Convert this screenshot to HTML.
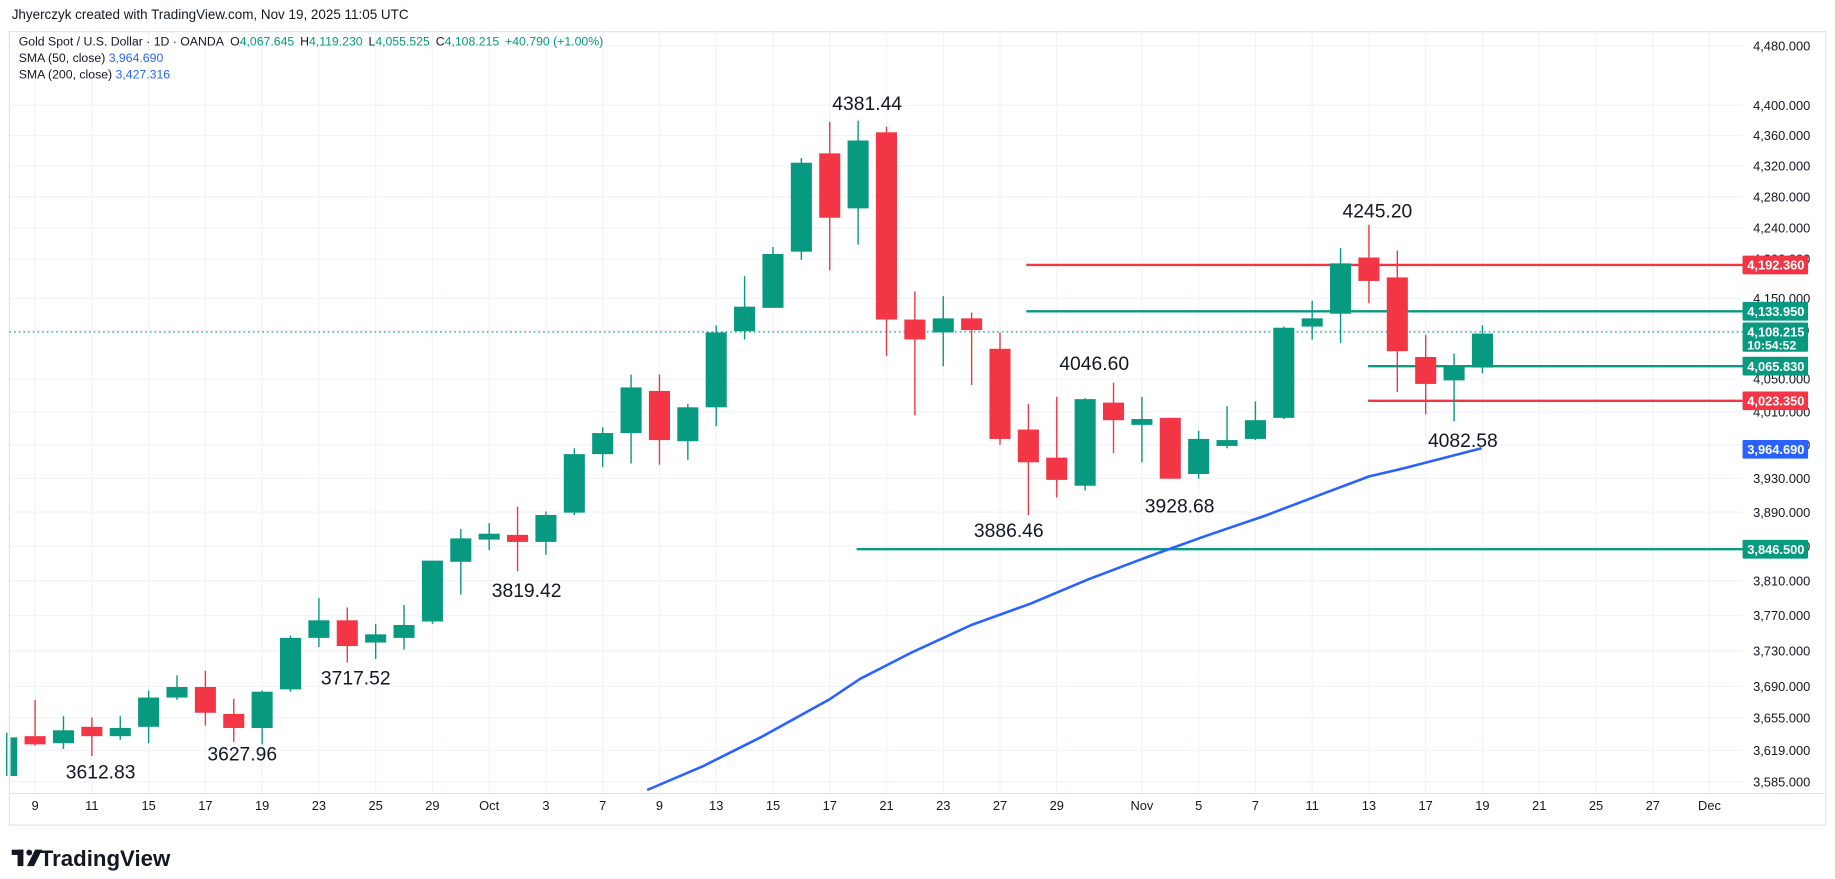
<!DOCTYPE html>
<html><head><meta charset="utf-8"><style>
html,body{margin:0;padding:0;background:#fff;}
svg{display:block;font-family:"Liberation Sans",sans-serif;}
</style></head><body>
<svg id="c" width="1835" height="879" viewBox="0 0 1568 751" xmlns="http://www.w3.org/2000/svg">
<rect width="1568" height="751" fill="#fff"/>
<g id="grid"></g>
<g id="lines"></g>
<g id="candles"></g>
<g id="over"></g>
<text x="10" y="16" font-size="11.5" fill="#131722">Jhyerczyk created with TradingView.com, Nov 19, 2025 11:05 UTC</text>
<text x="16" y="39" font-size="10.5" fill="#131722">Gold Spot / U.S. Dollar · 1D · OANDA <tspan dx="3">O</tspan><tspan fill="#089981">4,067.645</tspan><tspan dx="5">H</tspan><tspan fill="#089981">4,119.230</tspan><tspan dx="5">L</tspan><tspan fill="#089981">4,055.525</tspan><tspan dx="5">C</tspan><tspan fill="#089981">4,108.215</tspan><tspan dx="5" fill="#089981">+40.790 (+1.00%)</tspan></text>
<text x="16" y="53" font-size="10.5" fill="#131722">SMA (50, close) <tspan fill="#2962ff">3,964.690</tspan></text>
<text x="16" y="67" font-size="10.5" fill="#131722">SMA (200, close) <tspan fill="#2962ff">3,427.316</tspan></text>
<g transform="translate(10,726)">
<rect x="0" y="0" width="10" height="4.5" fill="#131722"/>
<rect x="5" y="0" width="5" height="14" fill="#131722"/>
<circle cx="15" cy="2.5" r="2.5" fill="#131722"/>
<polygon points="20,0 26,0 19,14 13,14" fill="#131722"/>
</g>
<text x="34" y="740" font-size="19" font-weight="bold" fill="#131722">TradingView</text>
</svg>
<script>
const NS="http://www.w3.org/2000/svg";
function el(p,t,a,txt){const e=document.createElementNS(NS,t);for(const k in a)e.setAttribute(k,a[k]);if(txt!==undefined)e.textContent=txt;document.getElementById(p).appendChild(e);return e;}
const Y=p=>90+2821*Math.log(4400/p);
const X=i=>30+24.25*(i-1);
const PR=1489;
el('grid','rect',{x:8,y:27,width:1552,height:678,fill:'none',stroke:'#e0e3eb','stroke-width':1});
const ticks=[4480,4400,4360,4320,4280,4240,4200,4150,4110,4050,4010,3970,3930,3890,3850,3810,3770,3730,3690,3655,3619,3585];
ticks.forEach(t=>{const y=Y(t);el('grid','line',{x1:8,x2:PR,y1:y,y2:y,stroke:'#f0f3fa','stroke-width':1});
el('over','text',{x:1498,y:y+4,'font-size':11,fill:'#131722'},t.toLocaleString('en-US',{minimumFractionDigits:3}));});
const dates=[[1,'9'],[3,'11'],[5,'15'],[7,'17'],[9,'19'],[11,'23'],[13,'25'],[15,'29'],[17,'Oct'],[19,'3'],[21,'7'],[23,'9'],[25,'13'],[27,'15'],[29,'17'],[31,'21'],[33,'23'],[35,'27'],[37,'29'],[40,'Nov'],[42,'5'],[44,'7'],[46,'11'],[48,'13'],[50,'17'],[52,'19'],[54,'21'],[56,'25'],[58,'27'],[60,'Dec']];
dates.forEach(([i,l])=>{const x=X(i);el('grid','line',{x1:x,x2:x,y1:27,y2:678,stroke:'#f0f3fa','stroke-width':1});
el('over','text',{x:x,y:692,'font-size':11,fill:'#131722','text-anchor':'middle'},l);});
el('grid','line',{x1:8,x2:1560,y1:678,y2:678,stroke:'#e0e3eb'});
const C=[[0,630,663,626,663,1],[1,629,636,598,637,0],[2,624,635,612,640,1],[3,621,629,613,646,0],[4,622,629,612,632,1],[5,596,621,590,635,1],[6,587,596,577,598,1],[7,587,609,573,620,0],[8,610,622,597,634,0],[9,591,622,590,636,1],[10,545,589,543,591,1],[11,530,545,511,553,1],[12,530,552,519,566,0],[13,542,549,533,563,1],[14,534,545,517,555,1],[15,479,531,479,533,1],[16,460,480,452,508,1],[17,456,461,447,470,1],[18,457,463,433,488,0],[19,440,463,437,474,1],[20,388,438,383,440,1],[21,370,388,365,399,1],[22,331,370,320,396,1],[23,334,376,320,397,0],[24,348,377,345,393,1],[25,284,348,278,364,1],[26,262,283,236,290,1],[27,217,263,211,262,1],[28,139,215,135,222,1],[29,131,186,104,231,0],[30,120,178,103,209,1],[31,113,273,108,304,0],[32,273,290,249,355,0],[33,272,284,253,313,1],[34,272,282,267,329,0],[35,298,375,284,380,0],[36,367,395,345,440,0],[37,391,410,339,425,0],[38,341,415,340,419,1],[39,344,359,327,387,0],[40,358,363,339,395,1],[41,357,409,357,409,0],[42,375,405,368,409,1],[43,376,381,347,383,1],[44,359,375,343,376,1],[45,280,357,279,358,1],[46,272,279,257,290,1],[47,225,268,212,293,1],[48,220,240,192,259,0],[49,237,300,214,335,0],[50,305,328,286,354,0],[51,313,325,302,360,1],[52,285,314,278,319,1]];
C.forEach(([i,bt,bb,wt,wb,g])=>{const x=X(i),col=g?'#089981':'#f23645';
el('candles','line',{x1:x,x2:x,y1:wt,y2:wb,stroke:col,'stroke-width':1.2});
let x0=x-9,w=18; if(x0<9){w-= (9-x0);x0=9;}
el('candles','rect',{x:x0,y:bt,width:w,height:Math.max(1,bb-bt),fill:col});});
el('lines','line',{x1:8,x2:PR,y1:Y(4108.215),y2:Y(4108.215),stroke:'#089981','stroke-width':1,'stroke-dasharray':'1.5 2.5'});
const H=[[4192.36,877,'#f23645'],[4133.95,877,'#089981'],[4065.83,1169,'#089981'],[4023.35,1169,'#f23645'],[3846.5,732,'#089981']];
H.forEach(([p,x,c])=>el('lines','line',{x1:x,x2:PR,y1:Y(p),y2:Y(p),stroke:c,'stroke-width':2}));
el('lines','polyline',{points:'553,675 600,655 650,630 708,598 735,580 780,557 830,534 880,516 930,495 980,476 1030,458 1080,441 1130,422 1170,407 1200,400 1266,383',fill:'none',stroke:'#2962ff','stroke-width':2.2,'stroke-linejoin':'round'});
function lab(p,txt,c,two){const y=Y(p);const h=two?25:16;el('over','rect',{x:PR,y:y-8,width:56,height:h,fill:c,rx:1});
el('over','text',{x:1493,y:y+4,'font-size':11,'font-weight':'bold',fill:'#fff'},txt);
if(two)el('over','text',{x:1493,y:y+15,'font-size':10.5,'font-weight':'bold',fill:'#fff'},'10:54:52');}
lab(4192.36,'4,192.360','#f23645');lab(4133.95,'4,133.950','#089981');lab(4108.215,'4,108.215','#089981',1);
lab(4065.83,'4,065.830','#089981');lab(4023.35,'4,023.350','#f23645');lab(3964.69,'3,964.690','#2962ff');lab(3846.5,'3,846.500','#089981');
[['4381.44',741,94],['4245.20',1177,186],['4046.60',935,316],['3886.46',862,459],['3928.68',1008,438],['4082.58',1250,382],['3819.42',450,510],['3717.52',304,585],['3627.96',207,650],['3612.83',86,665]].forEach(([t,x,y])=>
el('over','text',{x:x,y:y,'font-size':16.5,fill:'#131722','text-anchor':'middle'},t));
</script>
</body></html>
